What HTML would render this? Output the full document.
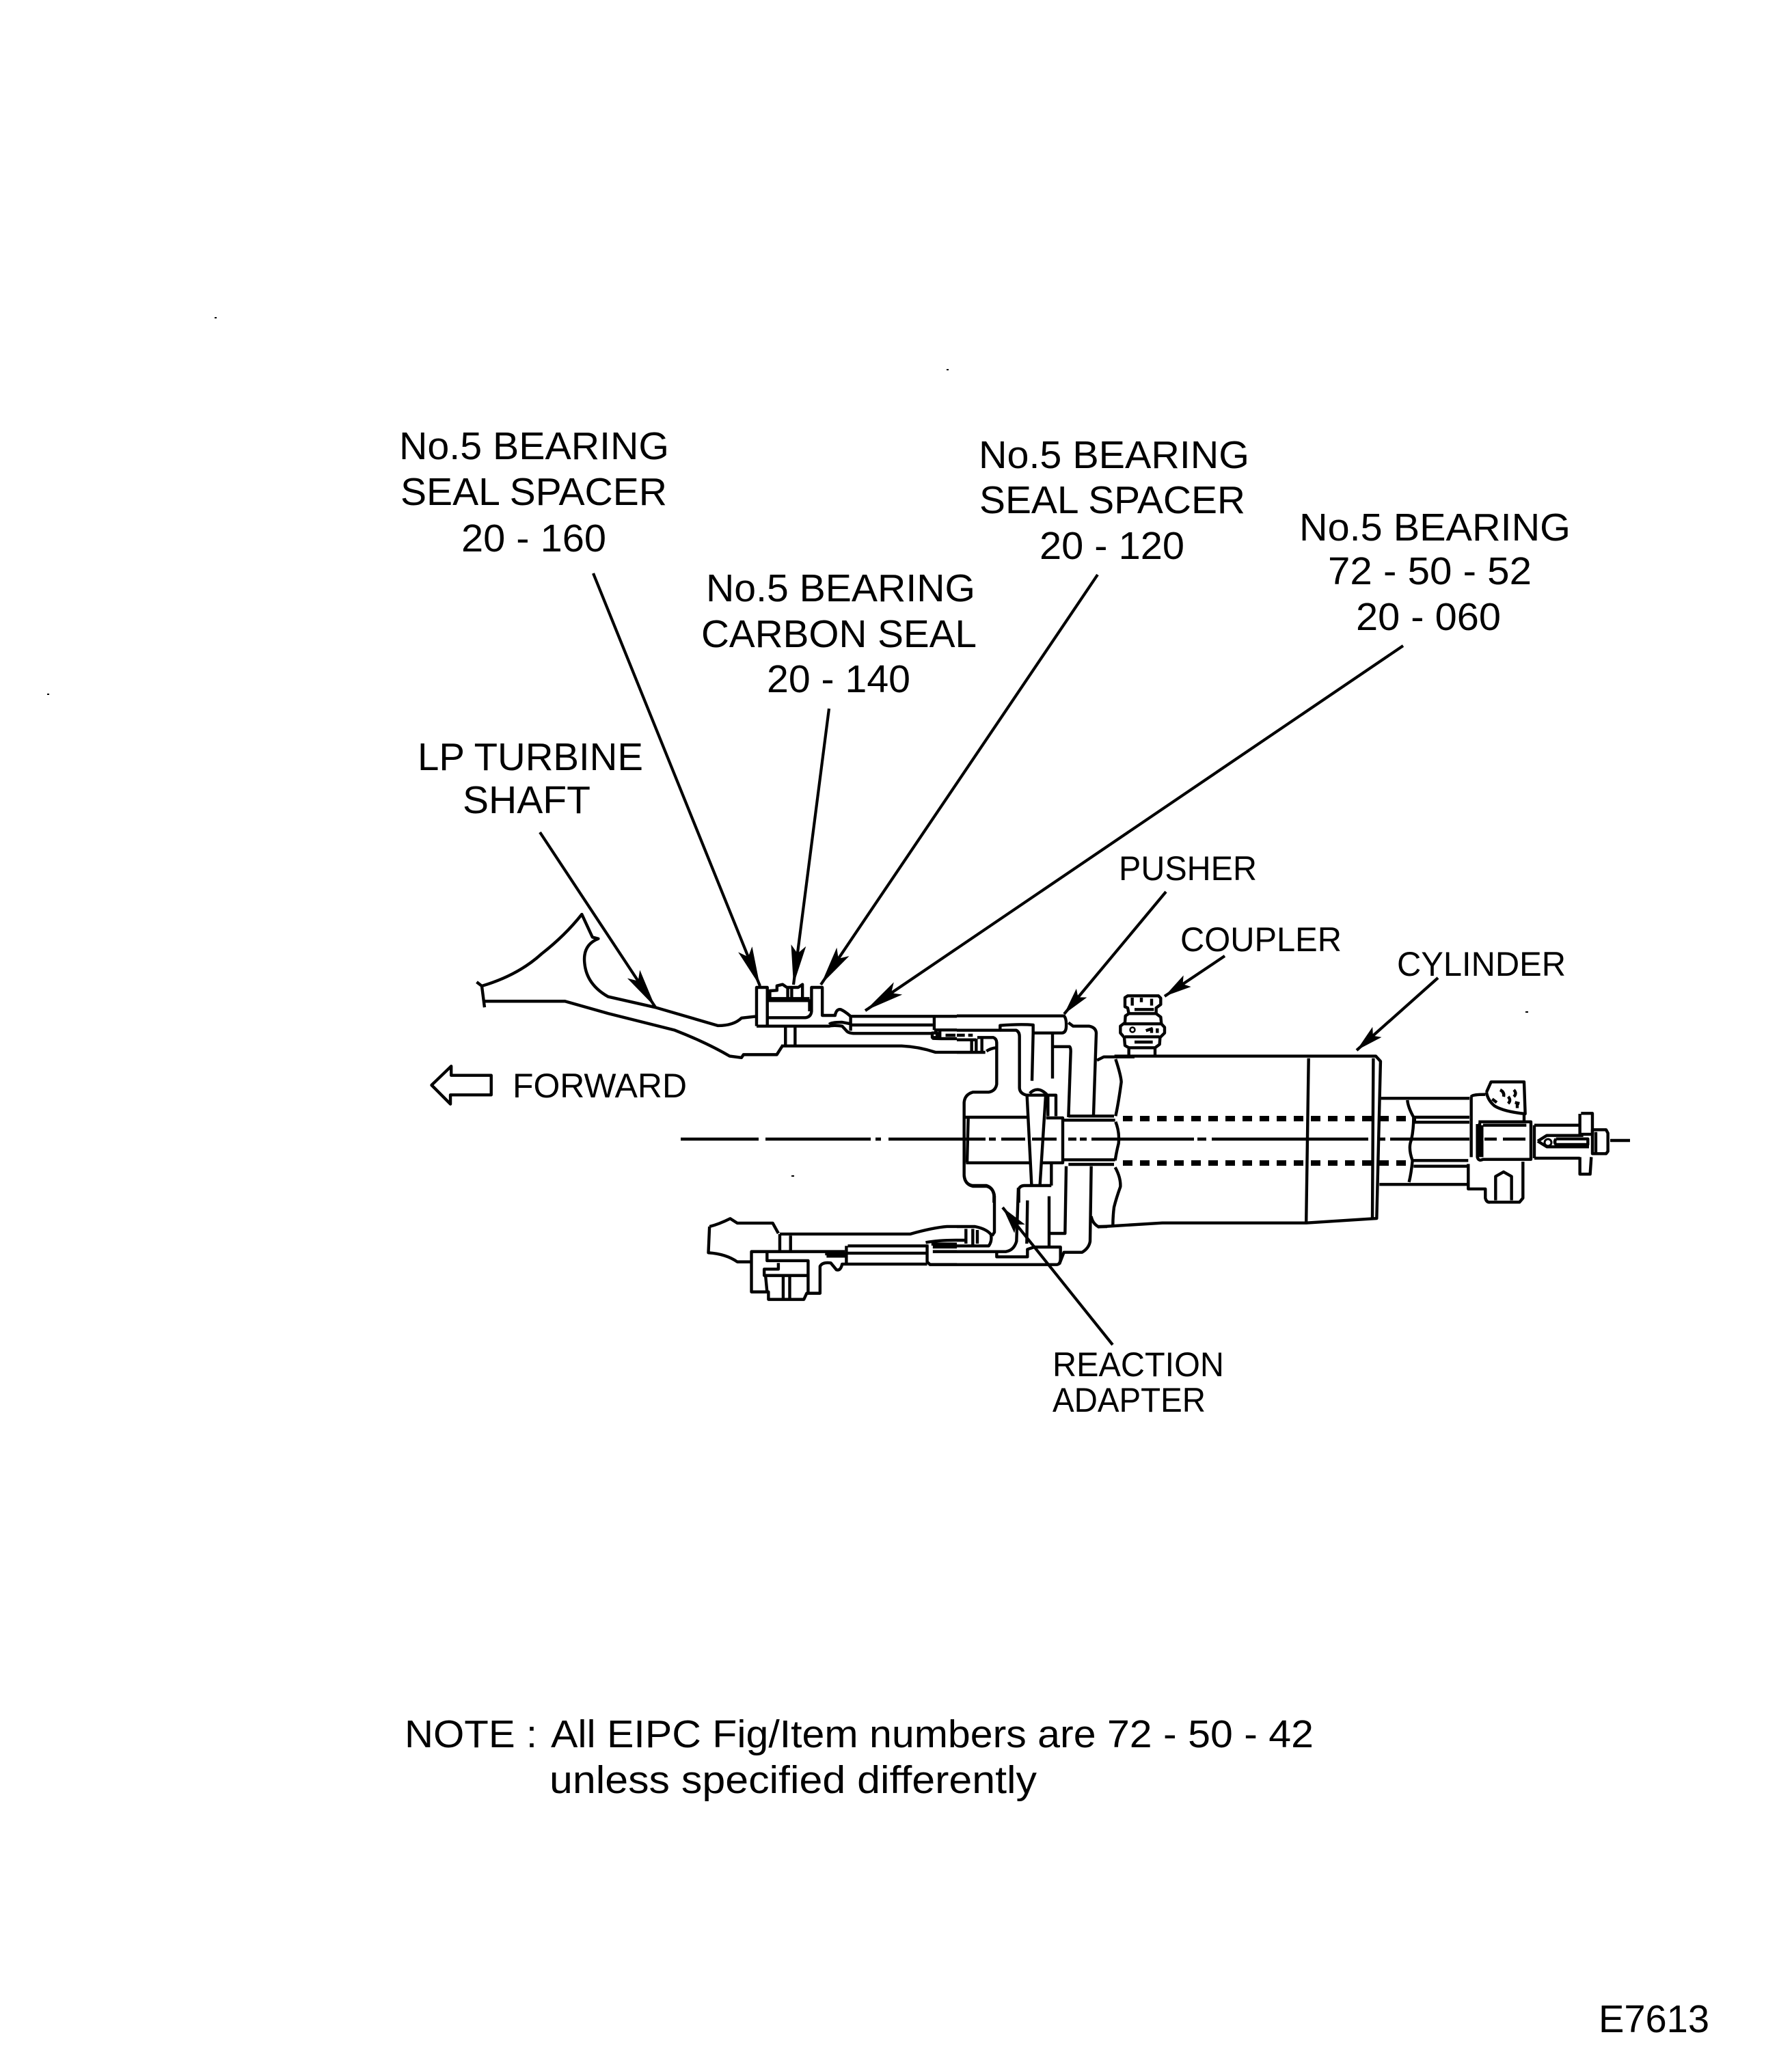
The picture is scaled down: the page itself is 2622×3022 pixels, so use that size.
<!DOCTYPE html>
<html><head><meta charset="utf-8"><style>
html,body{margin:0;padding:0;background:#fff}
svg{display:block}
text{font-family:"Liberation Sans",sans-serif;fill:#000}
.d path{fill:none;stroke:#000;stroke-width:4.4;vector-effect:non-scaling-stroke;stroke-linejoin:round}
.l line{stroke:#000;stroke-width:4.2}
.c line{stroke:#000;stroke-width:4.6}
</style></head><body>
<svg width="2622" height="3022" viewBox="0 0 2622 3022" xmlns="http://www.w3.org/2000/svg">
<defs>
<marker id="a" markerUnits="userSpaceOnUse" markerWidth="60" markerHeight="24" refX="58" refY="11" orient="auto"><path d="M58,11 L0,0 L12,11 L0,22 Z" fill="#000"/></marker>
<marker id="b" markerUnits="userSpaceOnUse" markerWidth="42" markerHeight="22" refX="40" refY="10" orient="auto"><path d="M40,10 L0,0 L8,10 L0,20 Z" fill="#000"/></marker>
</defs>
<rect width="2622" height="3022" fill="#fff"/>

<g font-size="57">
<text x="584" y="672" textLength="395" lengthAdjust="spacingAndGlyphs">No.5 BEARING</text>
<text x="586" y="739" textLength="390" lengthAdjust="spacingAndGlyphs">SEAL SPACER</text>
<text x="675" y="807" textLength="212" lengthAdjust="spacingAndGlyphs">20 - 160</text>
<text x="1033" y="880" textLength="394" lengthAdjust="spacingAndGlyphs">No.5 BEARING</text>
<text x="1026" y="947" textLength="403" lengthAdjust="spacingAndGlyphs">CARBON SEAL</text>
<text x="1122" y="1013" textLength="210" lengthAdjust="spacingAndGlyphs">20 - 140</text>
<text x="1432" y="685" textLength="396" lengthAdjust="spacingAndGlyphs">No.5 BEARING</text>
<text x="1433" y="751" textLength="389" lengthAdjust="spacingAndGlyphs">SEAL SPACER</text>
<text x="1521" y="818" textLength="212" lengthAdjust="spacingAndGlyphs">20 - 120</text>
<text x="1901" y="791" textLength="397" lengthAdjust="spacingAndGlyphs">No.5 BEARING</text>
<text x="1943" y="855" textLength="298" lengthAdjust="spacingAndGlyphs">72 - 50 - 52</text>
<text x="1984" y="922" textLength="212" lengthAdjust="spacingAndGlyphs">20 - 060</text>
<text x="611" y="1127" textLength="330" lengthAdjust="spacingAndGlyphs">LP TURBINE</text>
<text x="677" y="1190" textLength="187" lengthAdjust="spacingAndGlyphs">SHAFT</text>
<text x="592" y="2557" textLength="194" lengthAdjust="spacingAndGlyphs">NOTE :</text>
<text x="806" y="2557" textLength="1116" lengthAdjust="spacingAndGlyphs">All EIPC Fig/Item numbers are 72 - 50 - 42</text>
<text x="804" y="2624" textLength="713" lengthAdjust="spacingAndGlyphs">unless specified differently</text>
<text x="2339" y="2974" textLength="162" lengthAdjust="spacingAndGlyphs">E7613</text>
</g>
<g font-size="50">
<text x="1637" y="1288" textLength="202" lengthAdjust="spacingAndGlyphs">PUSHER</text>
<text x="1727" y="1392" textLength="236" lengthAdjust="spacingAndGlyphs">COUPLER</text>
<text x="2044" y="1428" textLength="247" lengthAdjust="spacingAndGlyphs">CYLINDER</text>
<text x="750" y="1606" textLength="255" lengthAdjust="spacingAndGlyphs">FORWARD</text>
<text x="1540" y="2014" textLength="251" lengthAdjust="spacingAndGlyphs">REACTION</text>
<text x="1540" y="2066" textLength="224" lengthAdjust="spacingAndGlyphs">ADAPTER</text>
</g>

<!-- leaders -->
<g class="l">
<line x1="790" y1="1218" x2="959" y2="1474" marker-end="url(#a)"/>
<line x1="868" y1="839" x2="1112" y2="1443" marker-end="url(#a)"/>
<line x1="1213" y1="1037" x2="1161" y2="1441" marker-end="url(#a)"/>
<line x1="1606" y1="841" x2="1201" y2="1441" marker-end="url(#a)"/>
<line x1="2053" y1="945" x2="1266" y2="1479" marker-end="url(#a)"/>
<line x1="1706" y1="1305" x2="1557" y2="1484" marker-end="url(#b)"/>
<line x1="1792" y1="1399" x2="1704" y2="1458" marker-end="url(#b)"/>
<line x1="2104" y1="1431" x2="1985" y2="1537" marker-end="url(#b)"/>
<line x1="1628" y1="1968" x2="1467" y2="1767" marker-end="url(#b)"/>
</g>

<!-- centreline -->
<g class="c">
<line x1="996" y1="1667" x2="1110" y2="1667"/><line x1="1120" y1="1667" x2="1274" y2="1667"/>
<line x1="1281" y1="1667" x2="1289" y2="1667" stroke-width="7"/><line x1="1300" y1="1667" x2="1442" y2="1667"/>
<line x1="1447" y1="1667" x2="1457" y2="1667"/><line x1="1465" y1="1667" x2="1500" y2="1667"/>
<line x1="1510" y1="1667" x2="1546" y2="1667"/>
<line x1="1563" y1="1667" x2="1575" y2="1667"/><line x1="1580" y1="1667" x2="1590" y2="1667"/>
<line x1="1597" y1="1667" x2="1747" y2="1667"/><line x1="1752" y1="1667" x2="1765" y2="1667"/>
<line x1="1773" y1="1667" x2="2002" y2="1667"/><line x1="2016" y1="1667" x2="2027" y2="1667"/>
<line x1="2034" y1="1667" x2="2150" y2="1667"/><line x1="2172" y1="1667" x2="2190" y2="1667"/>
<line x1="2199" y1="1667" x2="2232" y2="1667"/><line x1="2356" y1="1669" x2="2385" y2="1669"/>
</g>
<!-- dotted bore -->
<g fill="none" stroke="#000" stroke-width="8">
<line x1="1643" y1="1637" x2="2072" y2="1637" stroke-dasharray="14 11"/>
<line x1="1643" y1="1702" x2="2064" y2="1702" stroke-dasharray="14 11"/>
</g>

<!-- forward arrow + LP shaft -->
<g class="d" transform="translate(620,1280) scale(.574,.4464)">
<path d="M20,690 L70,628 V658 H172 V722 H68 V752 Z"/>
<path d="M135,352 L148,365 L155,435"/>
<path d="M148,365 Q240,330 300,260 Q360,200 403,130 L430,205 L445,210 Q405,230 410,290 Q415,360 470,400 L590,435 L750,495 Q790,495 810,470 L845,465"/>
<path d="M150,415 H360 L470,455 L640,510 Q720,550 780,595 L810,600 L815,590 H900 L915,560"/>
</g>

<!-- seal assembly, x<1400 -->
<g class="d" transform="translate(1000,1400) scale(.4146,.3333)">
<path d="M258,305 V135 H296 V300"/>
<path d="M258,305 H515 Q530,300 560,305 L575,325 Q580,335 600,337 H880"/>
<path d="M296,268 H430 Q450,265 452,240 V135 H490 V258 H535 Q540,228 555,232 Q570,240 590,262 H965"/>
<path d="M590,262 V325 M590,300 H880 M515,297 Q520,288 560,288 L590,295"/>
<path d="M300,193 H445 V240 M300,184 H445"/>
<path d="M305,184 V150 L330,148 V128 L350,122 L365,135 H405 L420,122 V184 M368,140 V184 M382,140 V184"/>
<path d="M360,310 V388 M394,310 V388"/>
<path d="M345,392 H770 Q830,395 890,420 H965"/>
<path d="M885,258 V322 M885,322 H965 M878,335 H895 V355 H878 Z"/>
<path d="M878,358 Q885,360 910,360 H965 M925,345 H960 M905,322 V358"/>
<path d="M340,1218 H800 Q880,1190 930,1185 H965"/>
<path d="M880,1295 H965 M965,1352 H870 L860,1340 V1270"/>
<path d="M340,1218 V1290 M378,1225 V1290"/>
<path d="M92,1185 Q125,1175 165,1150 L190,1170 H315 L335,1215 M92,1185 L88,1300 Q150,1305 190,1340 H240"/>
<path d="M240,1345 V1295 H570 M240,1300 V1472 H300 V1505 H425 L435,1478 H482 V1360 Q490,1340 520,1345 L540,1375 Q555,1380 560,1350 L575,1350 H860"/>
<path d="M295,1300 V1335 H440 V1478 M335,1345 V1372 H285 V1400 H440 M290,1405 L295,1470 M352,1405 V1500 M375,1405 V1500"/>
<path d="M500,1305 H570 M505,1315 H570 M575,1270 V1345 M580,1270 H865 M580,1302 H855"/>
<path d="M855,1255 Q900,1245 965,1245 M875,1262 H965 M880,1275 H965"/>
</g>

<!-- adapter upper/centre, origin 1400,1460, 3x -->
<g class="d" transform="translate(1400,1460) scale(.33333)">
<path d="M0,80 H470 Q482,90 480,130 Q478,155 460,155 H335 V120 Q280,115 190,122 V143 H0"/>
<path d="M190,143 H260 Q275,150 275,170 V395 Q275,420 305,428 H435 V520"/>
<path d="M335,155 L330,365 M420,160 V355 M420,215 H495 Q500,220 500,235 L490,525"/>
<path d="M490,110 L510,125 H580 Q610,130 612,155 L600,515"/>
<path d="M0,185 H85 M90,175 H160 Q175,180 175,200 V380 Q170,410 140,415 H70 Q35,425 32,460 V780 Q35,820 70,828 H130 Q160,835 163,870 V900"/>
<path d="M130,235 Q150,222 172,220 M0,240 H125 M65,190 V240 M85,180 V240 M110,180 V240 M0,165 H35 M50,165 H70"/>
<path d="M35,525 H310 M40,725 H320 M50,530 L45,725"/>
<path d="M308,430 L328,820 M390,430 L365,820 M320,420 Q355,385 395,425 M400,430 V520"/>
<path d="M392,528 H465 V725 H375 M470,538 H695 M490,520 H690 M470,712 H695 M490,732 H690"/>
<path d="M697,270 Q720,340 722,370 Q710,460 697,520 M697,545 Q715,590 710,640 Q700,680 695,715 M695,745 Q720,790 718,830 Q700,880 690,920 Q685,960 685,1000"/>
<path d="M415,730 V825 M272,900 V840 Q278,826 295,825 H415"/>
</g>

<!-- adapter lower, origin 1400,1660, 3x -->
<g class="d" transform="translate(1400,1660) scale(.33333)">
<path d="M165,270 Q160,235 130,225 H70 Q35,220 32,180"/>
<path d="M165,270 V430 L155,445"/>
<path d="M0,405 H80 Q130,415 150,440 Q155,470 140,490 H0 M40,415 V480 M70,415 V485 M90,420 V480 M0,465 H40"/>
<path d="M0,515 H215 Q250,510 262,470 L270,235"/>
<path d="M175,520 V538 H310 V505 L340,495 H455 V545 Q455,570 440,572 H0"/>
<path d="M310,290 L307,480 M405,272 V495 M405,435 H475 L480,140"/>
<path d="M590,140 L585,470 Q580,500 550,518 H470 L450,570 M590,360 Q595,390 620,405 H660"/>
</g>

<!-- coupler + cylinder top start, origin 1560,1430 -->
<g class="d" transform="translate(1560,1430) scale(.33333)">
<path d="M275,345 V310 L258,300 L255,265 L238,245 V215 L258,200 L260,170 L275,160 L270,135 L258,130 V90 L270,82 H405 L415,92 V120 L395,135 L395,160 L415,175 L418,205 L432,220 V245 L412,265 L410,295 L390,310 V345"/>
<path d="M255,205 H415 M258,262 H410 M275,160 H395 M300,142 H385 M290,90 V125 M330,90 V110 M375,95 V125 M275,310 H390 M300,285 H380 M350,235 L380,225 M375,225 V245 M400,225 V245"/>
<path d="M135,365 L165,350 H300"/>
</g>
<circle cx="1657" cy="1507" r="3.5" fill="none" stroke="#000" stroke-width="2.5"/>

<!-- cylinder -->
<g class="d" transform="translate(1350,1350) scale(.7015,.4464)">
<path d="M400,438 H945 L955,455 L947,970 L800,985 H500 L365,998"/>
<path d="M805,445 L800,980 M940,445 L938,970"/>
</g>

<!-- tail end -->
<g class="d" transform="translate(2000,1530) scale(.3333)">
<path d="M62,232 H450 M55,610 H445"/>
<path d="M178,240 Q180,270 205,315 Q205,370 195,415 Q180,450 200,505 Q195,560 185,600"/>
<path d="M205,315 H450 M205,337 H450 M205,505 H445 M205,530 H445"/>
<path d="M458,225 Q460,215 520,215 M458,225 V490 M445,520 V630 H520 V670 Q525,690 540,688 H670 L685,670 V510"/>
<path d="M565,680 V575 L600,555 L635,575 V680"/>
<path d="M490,335 H720 V500 H510 Q490,510 485,490 V345 M510,350 H700 M505,350 V490 M495,340 V490 M735,350 V495 M735,350 H935 M735,495 H935"/>
<path d="M940,298 H990 V390 H935 V300 M935,490 V565 H980 L985,490"/>
<path d="M990,370 H1050 L1058,385 V465 L1050,475 H990 Z M1005,380 V470"/>
<path d="M750,420 L790,395 H950 M750,420 L790,445 H975"/>
<path d="M830,410 H970 V435 H830 Q820,425 830,410"/>
<path d="M525,205 L545,160 H690 L695,300 Q600,290 560,265 Q530,240 525,205 M690,300 V330"/>
<path d="M585,195 Q605,205 600,225 M645,195 Q660,210 645,225 M620,225 Q635,240 620,255 M650,250 L670,255 M660,250 V275 M550,235 L570,250"/>
</g>
<circle cx="2265" cy="1672" r="5" fill="#fff" stroke="#000" stroke-width="3"/>

<!-- specks -->
<g fill="#000"><rect x="314" y="464" width="3" height="2"/><rect x="69" y="1015" width="3" height="2"/><rect x="1158" y="1720" width="4" height="2"/><rect x="2232" y="1480" width="4" height="2"/><rect x="1385" y="540" width="3" height="2"/></g>
</svg>
</body></html>
